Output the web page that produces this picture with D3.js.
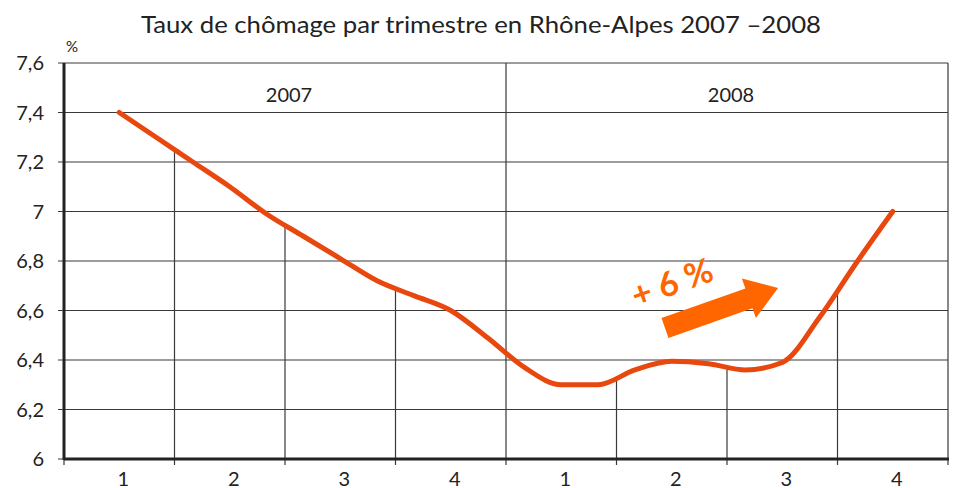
<!DOCTYPE html>
<html>
<head>
<meta charset="utf-8">
<script src="https://cdn.jsdelivr.net/npm/d3@7"></script>
<style>
  body { margin: 0; background: #fff; }
  text { font-family: Lato, "DejaVu Sans", sans-serif; fill: #222; }
</style>
</head>
<body>
<script>
var title = "Taux de chômage par trimestre en Rhône-Alpes 2007 –2008";
var years = ["2007", "2008"];
var quarters = ["1", "2", "3", "4", "1", "2", "3", "4"];
// monthly readings, first point = quarter 1 of 2007, last = quarter 4 of 2008
var rate = [7.40, 7.30, 7.20, 7.10, 6.99, 6.90, 6.81, 6.72, 6.66, 6.60, 6.49,
            6.37, 6.30, 6.30, 6.36, 6.395, 6.385, 6.36, 6.39, 6.57, 6.79, 7.00];
var yTicks = [6, 6.2, 6.4, 6.6, 6.8, 7, 7.2, 7.4, 7.6];
var note = "+ 6 %";

var W = 954, H = 488;
var mLeft = 64, mRight = 948, mTop = 63, mBottom = 459;
var lineColor = "#e8470e", noteColor = "#ff6600";

var svg = d3.select("body").append("svg")
    .attr("width", W)
    .attr("height", H);

var x = d3.scaleLinear().domain([-0.5, quarters.length - 0.5]).range([mLeft, mRight]);
var y = d3.scaleLinear().domain([6, 7.6]).range([mBottom, mTop]);
var fmt = function(d) { return d3.format("~g")(d).replace(".", ","); };

//title
svg.append("text")
    .attr("x", 481).attr("y", 33)
    .attr("text-anchor", "middle")
    .style("font-size", "23px")
    .attr("textLength", 680)
    .attr("lengthAdjust", "spacingAndGlyphs")
    .text(title);

svg.append("text")
    .attr("x", 66).attr("y", 52)
    .style("font-size", "15px")
    .text("%");

//grid
svg.append("g").selectAll("line").data(yTicks).enter().append("line")
    .attr("x1", mLeft - 6).attr("x2", mRight)
    .attr("y1", function(d) { return y(d); })
    .attr("y2", function(d) { return y(d); })
    .attr("stroke", "#3a3a3a").attr("stroke-width", 1.2);

svg.append("g").selectAll("text").data(yTicks).enter().append("text")
    .attr("x", 44)
    .attr("y", function(d) { return y(d); })
    .attr("dy", "0.35em")
    .attr("text-anchor", "end")
    .style("font-size", "20px")
    .text(fmt);

var pts = rate.map(function(v, i) { return [i / 3, v]; });

// drop lines from axis up to the curve (clipped under it)
var area = d3.area().curve(d3.curveMonotoneX)
    .x(function(d) { return x(d[0]); })
    .y0(mBottom)
    .y1(function(d) { return y(d[1]); });

svg.append("clipPath").attr("id", "under")
    .append("path").attr("d", area(pts));

var bounds = d3.range(1, quarters.length).filter(function(i) { return i !== 4; });
svg.append("g").attr("clip-path", "url(#under)")
  .selectAll("line").data(bounds).enter().append("line")
    .attr("x1", function(d) { return x(d - 0.5); })
    .attr("x2", function(d) { return x(d - 0.5); })
    .attr("y1", mTop).attr("y2", mBottom)
    .attr("stroke", "#3a3a3a").attr("stroke-width", 1.2);

// year divider + right edge
svg.append("g").selectAll("line").data([3.5, quarters.length - 0.5]).enter().append("line")
    .attr("x1", function(d) { return x(d); })
    .attr("x2", function(d) { return x(d); })
    .attr("y1", mTop).attr("y2", mBottom)
    .attr("stroke", "#3a3a3a").attr("stroke-width", 1.2);

svg.append("g").selectAll("text").data(years).enter().append("text")
    .attr("x", function(d, i) { return x(i * 4 + 1.5) + 4; })
    .attr("y", 102)
    .attr("text-anchor", "middle")
    .style("font-size", "20px")
    .text(function(d) { return d; });

// bottom ticks
svg.append("g").selectAll("line").data(d3.range(0, quarters.length + 1)).enter().append("line")
    .attr("x1", function(d) { return x(d - 0.5); })
    .attr("x2", function(d) { return x(d - 0.5); })
    .attr("y1", mBottom).attr("y2", mBottom + 6)
    .attr("stroke", "#3a3a3a").attr("stroke-width", 1.2);

svg.append("g").selectAll("text").data(quarters).enter().append("text")
    .attr("x", function(d, i) { return x(i) + 4; })
    .attr("y", 486)
    .attr("text-anchor", "middle")
    .style("font-size", "20px")
    .text(function(d) { return d; });

//axes
svg.append("line")
    .attr("x1", mLeft).attr("x2", mLeft).attr("y1", mTop).attr("y2", mBottom + 1)
    .attr("stroke", "#222").attr("stroke-width", 3);
svg.append("line")
    .attr("x1", mLeft).attr("x2", mRight + 1).attr("y1", mBottom).attr("y2", mBottom)
    .attr("stroke", "#222").attr("stroke-width", 3);

//curve
var line = d3.line().curve(d3.curveMonotoneX)
    .x(function(d) { return x(d[0]); })
    .y(function(d) { return y(d[1]); });

svg.append("path")
    .attr("d", line(pts))
    .attr("fill", "none")
    .attr("stroke", lineColor)
    .attr("stroke-width", 5)
    .attr("stroke-linecap", "round")
    .attr("stroke-linejoin", "round");

//annotation
var ang = -19.5;
svg.append("text")
    .attr("transform", "translate(676,294) rotate(" + ang + ")")
    .attr("text-anchor", "middle")
    .style("font-size", "34px")
    .style("font-weight", "bold")
    .style("fill", noteColor)
    .text(note);

var len = 120, shaft = 10.5, head = 21, headLen = 31;
var arrow = [[0, -shaft], [len - headLen, -shaft], [len - headLen, -head], [len, 0],
             [len - headLen, head], [len - headLen, shaft], [0, shaft]];
svg.append("path")
    .attr("transform", "translate(665,328) rotate(" + ang + ")")
    .attr("d", d3.line()(arrow) + "Z")
    .attr("fill", noteColor);
</script>
</body>
</html>
